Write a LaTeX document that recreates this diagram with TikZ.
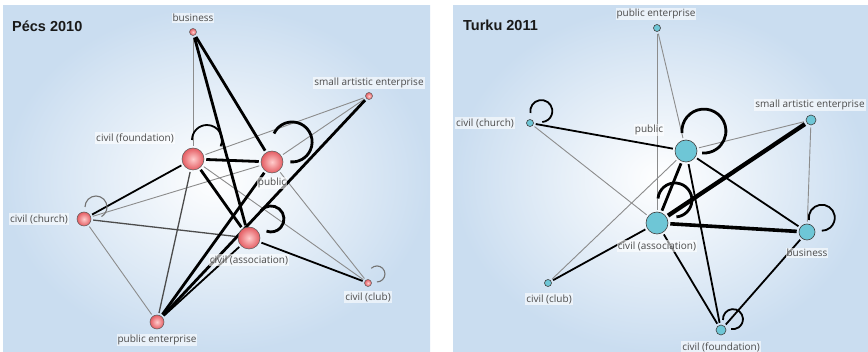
\documentclass[tikz,border=0pt]{standalone}
\usepackage{fontspec}
\setmainfont{Open Sans}
\newfontfamily\titlefont{Liberation Sans}
\pgfdeclarelayer{bg}
\pgfdeclarelayer{edges}
\pgfsetlayers{bg,edges,main}
\definecolor{panelblue}{RGB}{202,221,240}
\definecolor{nodeblue}{RGB}{110,198,214}
\definecolor{pinkin}{RGB}{255,205,205}
\definecolor{pinkout}{RGB}{228,92,98}
\definecolor{lbltext}{RGB}{75,75,75}
\begin{document}
\begin{tikzpicture}[x=1pt,y=1pt,
 lbl/.style={font=\fontsize{10}{11}\selectfont, text=lbltext, inner sep=1pt, fill=white, fill opacity=0.6, text opacity=1},
 ttl/.style={font=\titlefont\bfseries\fontsize{14.5}{15}\selectfont, anchor=west, inner sep=0pt, text=black!90},
 rn/.style={circle, inner sep=0pt, minimum size=#1, draw=black!65, line width=0.5pt, shading=radial, inner color=pinkin, outer color=pinkout},
 bn/.style={circle, inner sep=0pt, minimum size=#1, draw=black!75, line width=0.6pt, fill=nodeblue},
 gl/.style={draw=black!45, line width=0.9pt, shorten <=2pt, shorten >=2pt},
 dl/.style={draw=black!70, line width=1.3pt, shorten <=2pt, shorten >=2pt},
 ml/.style={draw=black, line width=1.8pt, shorten <=2pt, shorten >=2pt},
 tl/.style={draw=black, line width=2.8pt, shorten <=2pt, shorten >=2pt},
 vtl/.style={draw=black, line width=4.3pt, shorten <=2pt, shorten >=2pt},
 lpg/.style={draw=black!55, line width=1.1pt},
 lpm/.style={draw=black, line width=1.8pt},
 lpt/.style={draw=black, line width=2.8pt}
]
\useasboundingbox (0,-352) rectangle (868,0);
\begin{pgfonlayer}{bg}
\fill[white] (0,-352) rectangle (868,0);
\shade[inner color=white, outer color=panelblue] (3,-352) rectangle (430,-6);
\shade[inner color=white, outer color=panelblue] (453,-352) rectangle (868,-6);
\end{pgfonlayer}

% ---------- Pecs 2010 ----------
\node[ttl] (t1) at (12,-26) {Pécs 2010};
\node[rn=7pt] (Lbus) at (193,-32) {};
\node[rn=7pt] (Lsa) at (369,-96) {};
\node[rn=22pt] (Lfou) at (193,-159) {};
\node[rn=22pt] (Lpub) at (272,-162) {};
\node[rn=14pt] (Lchu) at (84,-219) {};
\node[rn=22pt] (Lass) at (249,-238) {};
\node[rn=7pt] (Lclu) at (368,-283) {};
\node[rn=14pt] (Lpe) at (157,-322) {};

\node[lbl] (lLbus) at (193,-18) {business};
\node[lbl] (lLsa) at (369,-83) {small artistic enterprise};
\node[lbl] (lLfou) at (135,-138) {civil (foundation)};
\node[lbl] (lLpub) at (272,-183) {public};
\node[lbl] (lLchu) at (39,-219) {civil (church)};
\node[lbl] (lLass) at (249,-260) {civil (association)};
\node[lbl] (lLclu) at (368,-297) {civil (club)};
\node[lbl] (lLpe) at (157,-340) {public enterprise};

\begin{pgfonlayer}{edges}
\draw[gl] (Lbus) -- (Lfou);
\draw[gl] (Lsa) -- (Lfou);
\draw[gl] (Lsa) -- (Lpub);
\draw[gl] (Lchu) -- (Lpub);
\draw[gl] (Lchu) -- (Lpe);
\draw[gl] (Lfou) -- (Lclu);
\draw[gl] (Lpub) -- (Lclu);
\draw[dl] (Lchu) -- (Lass);
\draw[ml] (Lfou) -- (Lchu);
\draw[dl] (Lfou) -- (Lpe);
\draw[ml] (Lass) -- (Lclu);
\draw[ml] (Lass) -- (Lpe);
\draw[tl] (Lbus) -- (Lpub);
\draw[tl] (Lbus) -- (Lass);
\draw[tl] (Lfou) -- (Lpub);
\draw[tl] (Lfou) -- (Lass);
\draw[tl] (Lpe) -- (Lpub);
\draw[tl] (Lpe) -- (Lsa);
% loops
\draw[lpm] (Lfou.center) ++(-1,19) arc[start angle=180,end angle=-25,radius=15];
\draw[lpt] (Lpub.center) ++(2,28.5) arc[start angle=155,end angle=-95,radius=20];
\draw[lpg] (Lchu.center) ++(1,12) arc[start angle=180,end angle=-60,radius=11];
\draw[lpt] (Lass.center) ++(12,27.4) arc[start angle=140,end angle=-110,radius=13];
\draw[lpg] (Lclu.center) ++(3.3,14.7) arc[start angle=135,end angle=-90,radius=8];
\end{pgfonlayer}

% ---------- Turku 2011 ----------
\node[ttl] (t2) at (463,-25) {Turku 2011};
\node[bn=7pt] (Rpe) at (657,-28) {};
\node[bn=7pt] (Rchu) at (530,-123) {};
\node[bn=22pt] (Rpub) at (686,-151) {};
\node[bn=10pt] (Rsa) at (811,-120) {};
\node[bn=22pt] (Rass) at (657,-223) {};
\node[bn=16pt] (Rbus) at (807,-232) {};
\node[bn=7pt] (Rclu) at (548,-283) {};
\node[bn=10pt] (Rfou) at (721,-330) {};

\node[lbl] (lRpe) at (656,-14) {public enterprise};
\node[lbl] (lRchu) at (485,-123) {civil (church)};
\node[lbl] (lRpub) at (649,-130) {public};
\node[lbl] (lRsa) at (810,-105) {small artistic enterprise};
\node[lbl] (lRass) at (657,-246) {civil (association)};
\node[lbl] (lRbus) at (807,-253) {business};
\node[lbl] (lRclu) at (549,-299) {civil (club)};
\node[lbl] (lRfou) at (721,-347) {civil (foundation)};

\begin{pgfonlayer}{edges}
\draw[gl] (Rpe) -- (Rpub);
\draw[gl] (Rpe) -- (Rass);
\draw[gl] (Rchu) -- (Rass);
\draw[gl] (Rpub) -- (Rsa);
\draw[gl] (Rpub) -- (Rclu);
\draw[gl] (Rsa) -- (Rbus);
\draw[ml] (Rchu) -- (Rpub);
\draw[ml] (Rpub) -- (Rbus);
\draw[ml] (Rpub) -- (Rfou);
\draw[ml] (Rass) -- (Rfou);
\draw[ml] (Rass) -- (Rclu);
\draw[ml] (Rbus) -- (Rfou);
\draw[tl] (Rpub) -- (Rass);
\draw[line width=3.6pt, shorten <=2pt, shorten >=2pt] (Rass) -- (Rbus);
\draw[vtl] (Rass) -- (Rsa);
% loops
\draw[lpm] (Rchu.center) ++(0.5,10) arc[start angle=190,end angle=-85,radius=11];
\draw[lpt] (Rpub.center) ++(-4,18) arc[start angle=185,end angle=-95,radius=22];
\draw[lpm] (Rbus.center) ++(2,12) arc[start angle=190,end angle=-90,radius=13];
\draw[lpm] (Rfou.center) ++(2,10) arc[start angle=185,end angle=-100,radius=10];
\draw[lpt] (Rass.center) ++(1,24.5) arc[start angle=175,end angle=-85,radius=17];
\end{pgfonlayer}
\end{tikzpicture}
\end{document}
